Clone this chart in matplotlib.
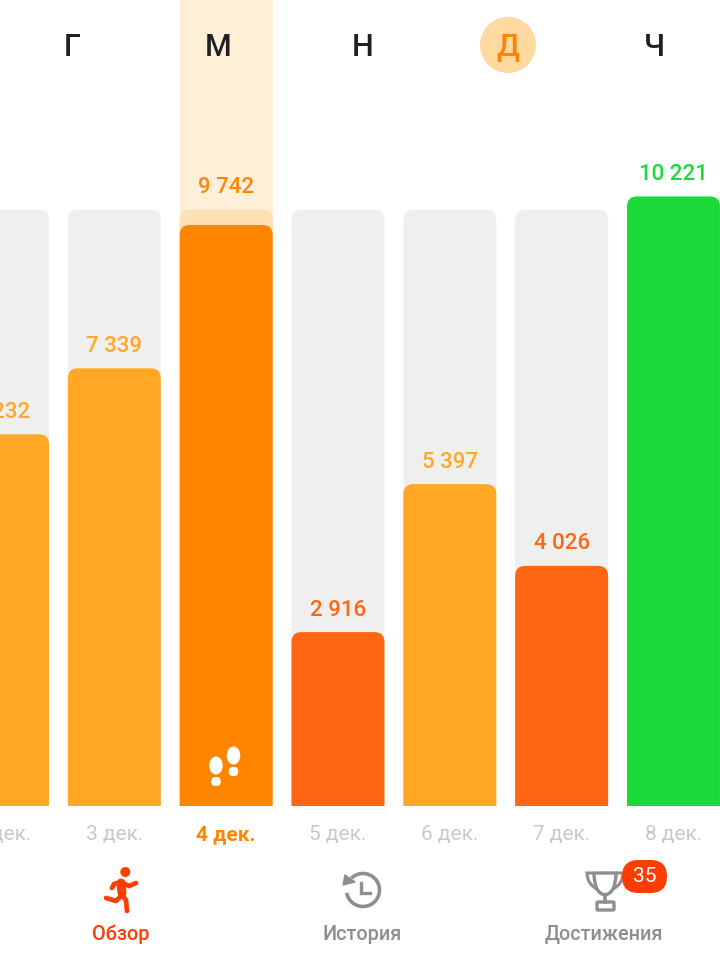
import matplotlib
matplotlib.use("Agg")
import matplotlib.pyplot as plt
from matplotlib.path import Path
from matplotlib.patches import PathPatch, Circle, Ellipse, Arc, FancyBboxPatch, Polygon

plt.rcParams['font.family'] = ['Roboto', 'Inter', 'DejaVu Sans']

# Data
dates = ["2 дек.", "3 дек.", "4 дек.", "5 дек.", "6 дек.", "7 дек.", "8 дек."]
steps = [6232, 7339, 9742, 2916, 5397, 4026, 10221]
bar_colors = ["#FFA826", "#FFA826", "#FF8500", "#FF6611", "#FFA826", "#FF6611", "#1CD93A"]
goal = 10000
today = 2

days = ["Г", "М", "Н", "Д", "Ч"]
day_x = [72, 218, 363, 508, 654]
tabs = ["Обзор", "История", "Достижения"]
tab_x = [121, 362, 604]
tab_colors = ["#FF3D00", "#8E8E8E", "#8E8E8E"]
badge = "35"

TRACK = "#EFEFEF"
TRACK_TODAY = "#FDE0B3"
COLUMN = "#FEEFD9"
ICON = "#8E8E8E"
RED = "#FF3D00"

# Scales: 111.83 px between bars, 0.05964 px per step, baseline at y=806
STEP_PX = 111.83
Y_PX = 0.05964
BAR_W = 93 / STEP_PX


# Bar with rounded top corners, radius given in pixels
def rounded_bar(ax, x, value, color, zorder=2, r=10):
    rx = r / STEP_PX
    ry = r / Y_PX
    l, c = x - BAR_W / 2, x + BAR_W / 2
    verts = [(l, 0), (l, value - ry), (l, value), (l + rx, value),
             (c - rx, value), (c, value), (c, value - ry), (c, 0), (l, 0)]
    codes = [Path.MOVETO, Path.LINETO, Path.CURVE3, Path.CURVE3,
             Path.LINETO, Path.CURVE3, Path.CURVE3, Path.LINETO, Path.CLOSEPOLY]
    ax.add_patch(PathPatch(Path(verts, codes), fc=color, ec="none", zorder=zorder))


fig = plt.figure(figsize=(7.2, 9.74), dpi=100)
ax = fig.add_axes([0, 0, 1, 1])
ax.set_xlim(-2.5 / STEP_PX, 717.5 / STEP_PX)
ax.set_ylim(-168 / Y_PX, 806 / Y_PX)
ax.axis("off")

# Today column
ax.axvspan(today - BAR_W / 2, today + BAR_W / 2, ymin=168 / 974, ymax=1, fc=COLUMN, ec="none", zorder=0)

for i, (d, v, col) in enumerate(zip(dates, steps, bar_colors)):
    is_today = i == today
    rounded_bar(ax, i, goal, TRACK_TODAY if is_today else TRACK, zorder=1)
    rounded_bar(ax, i, v, col, zorder=2)
    label = f"{v:,}".replace(",", " ")
    ax.annotate(label, (i, goal if is_today else v), xytext=(0, 15.8), textcoords="offset points",
                ha="center", va="center", fontsize=16, fontweight="medium", color=col, zorder=3)
    ax.annotate(d, (i, 0), xytext=(0, -20.5), textcoords="offset points",
                ha="center", va="center", fontsize=15,
                color=col if is_today else "#C9C9C9",
                fontweight="bold" if is_today else "normal", zorder=3)

# Overlay in pixel coordinates for header, tab bar and icons
ov = fig.add_axes([0, 0, 1, 1])
ov.set_xlim(0, 720)
ov.set_ylim(974, 0)
ov.axis("off")
ov.patch.set_alpha(0)

ov.add_patch(Circle((508, 45), 28, fc="#FFD9A0", ec="none"))
for x, d in zip(day_x, days):
    col = "#FF8500" if d == "Д" else "#1F1F24"
    ov.text(x, 45, d, ha="center", va="center_baseline", fontsize=22, fontweight="medium", color=col)

for x, t, col in zip(tab_x, tabs, tab_colors):
    ov.text(x, 932, t, ha="center", va="center_baseline", fontsize=14.3, fontweight="medium", color=col)

# Footsteps
for cx, top in [(216, 757), (233.5, 747)]:
    ov.add_patch(Ellipse((cx, top + 8.5), 13.5, 18, fc="white", ec="none"))
    ov.add_patch(FancyBboxPatch((cx - 4.7, top + 20), 9.4, 9, boxstyle="round,pad=0,rounding_size=4",
                                fc="white", ec="none"))

# Runner
ov.add_patch(Circle((125.3, 872), 5, fc=RED, ec="none"))
limbs = [
    [(121, 882), (129, 886), (136, 883)],
    [(121, 882), (114, 884), (112, 888)],
    [(122, 895), (116, 901), (106, 898)],
    [(122, 895), (126, 900), (127, 911)],
]
for pts in limbs:
    xs, ys = zip(*pts)
    ov.plot(xs, ys, color=RED, lw=3.4, solid_capstyle="round", solid_joinstyle="round")
ov.plot([121, 122], [883, 893], color=RED, lw=6.5, solid_capstyle="round")

# History icon
ov.add_patch(Arc((363, 890), 33, 33, theta1=225, theta2=530, ec=ICON, lw=2.6))
ov.add_patch(Polygon([(343, 885), (345, 875), (355, 882)], fc=ICON, ec=ICON, lw=1, joinstyle="round"))
ov.plot([361, 361, 370], [883, 893, 893], color=ICON, lw=2.4, solid_joinstyle="miter")

# Trophy icon
cup = Path([(594, 873), (616, 873), (616, 893), (605, 895), (594, 893), (594, 873)],
           [Path.MOVETO, Path.LINETO, Path.CURVE3, Path.CURVE3, Path.CURVE3, Path.CURVE3])
ov.add_patch(PathPatch(cup, fc="none", ec=ICON, lw=2.4))
left_handle = Path([(594, 873), (587, 873), (587, 884), (597, 889)],
                   [Path.MOVETO, Path.LINETO, Path.CURVE3, Path.CURVE3])
right_handle = Path([(616, 873), (623, 873), (623, 884), (613, 889)],
                    [Path.MOVETO, Path.LINETO, Path.CURVE3, Path.CURVE3])
ov.add_patch(PathPatch(left_handle, fc="none", ec=ICON, lw=2.2))
ov.add_patch(PathPatch(right_handle, fc="none", ec=ICON, lw=2.2))
ov.plot([605, 605], [895, 902], color=ICON, lw=2.6)
ov.add_patch(FancyBboxPatch((597, 902), 17, 8, boxstyle="round,pad=0,rounding_size=1", fc="none", ec=ICON, lw=2.4))

# Badge
ov.add_patch(FancyBboxPatch((622, 860), 45, 33, boxstyle="round,pad=0,rounding_size=16.5", fc=RED, ec="none"))
ov.text(644.5, 877, badge, ha="center", va="center", fontsize=15, color="white")

fig.savefig("out.png", dpi=100)
